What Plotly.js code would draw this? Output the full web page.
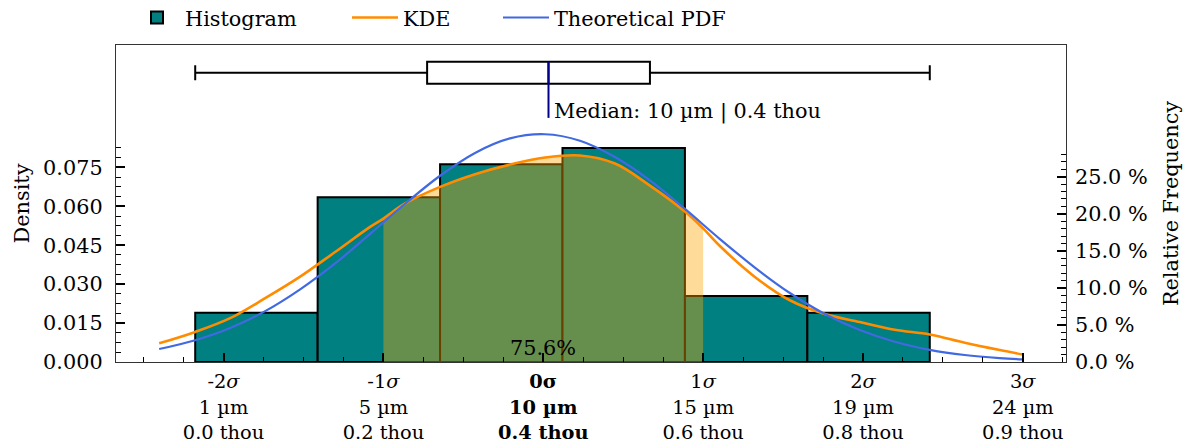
<!DOCTYPE html>
<html><head><meta charset="utf-8">
<script src="https://cdn.plot.ly/plotly-3.0.1.min.js"></script>
<style>html,body{margin:0;padding:0;background:#fff}#chart{width:1192px;height:445px}</style>
</head><body><div id="chart"></div>
<script>
// ---- data (µm) ----
const BIN_EDGES = [0.0, 3.5, 7.0, 10.5, 14.0, 17.5, 21.0];
const HIST_DENSITY = [0.0190, 0.0635, 0.0762, 0.0825, 0.0254, 0.0190];
const KDE_X = [-1.03, 0, 1, 2, 3, 4, 5, 5.38, 6, 7, 8, 9, 10, 11, 12, 13, 14, 14.52, 15, 16, 17, 18, 19, 20, 21, 22, 23, 23.66];
const KDE_Y = [0.0072, 0.0116, 0.0169, 0.0246, 0.0329, 0.0424, 0.0521, 0.0553, 0.0611, 0.0675, 0.0724, 0.0761, 0.0788, 0.0796, 0.0765, 0.0680, 0.0580, 0.0515, 0.0447, 0.0328, 0.0238, 0.0185, 0.0154, 0.0124, 0.0106, 0.0074, 0.0046, 0.0029];
const PDF_X = [-1.03, 0, 1, 2, 3, 4, 5, 6, 7, 8, 9, 10, 11, 12, 13, 14, 15, 16, 17, 18, 19, 20, 21, 22, 23, 23.66];
const PDF_Y = [0.0050, 0.0084, 0.0131, 0.0196, 0.0280, 0.0380, 0.0494, 0.0610, 0.0718, 0.0806, 0.0862, 0.0878, 0.0853, 0.0790, 0.0700, 0.0590, 0.0474, 0.0364, 0.0266, 0.0185, 0.0123, 0.0078, 0.0047, 0.0027, 0.0015, 0.0010];
const MEAN = 9.95;
const SD = 4.57;
const BOX_STATS = [0.0, 6.63, 10.1, 13.0, 21.0]; // min, q1, median, q3, max
const SIGMA_STEPS = [-2, -1, 0, 1, 2, 3];
const UM_LABELS = [1, 5, 10, 15, 19, 24];
const THOU_LABELS = [0.0, 0.2, 0.4, 0.6, 0.8, 0.9];
const DENSITY_TICKS = [0, 0.015, 0.030, 0.045, 0.060, 0.075];
const PCT_TICKS = [0, 5, 10, 15, 20, 25];
const WITHIN_1SD = '75.6%';
const MEDIAN_TEXT = 'Median: 10 µm | 0.4 thou';

// ---- derived ----
const FONT = 'DejaVu Serif';
const FS = 20.8;
const XFS = 19.4;
const binW = BIN_EDGES[1] - BIN_EDGES[0];
const centers = HIST_DENSITY.map((_, i) => (BIN_EDGES[i] + BIN_EDGES[i + 1]) / 2);
const widths = HIST_DENSITY.map((_, i) => BIN_EDGES[i + 1] - BIN_EDGES[i]);
const relFreq = HIST_DENSITY.map(d => d * binW * 100);
const span = KDE_X[KDE_X.length - 1] - KDE_X[0];
const XR = [KDE_X[0] - 0.05 * span, KDE_X[KDE_X.length - 1] + 0.05 * span];
const YMAX = 0.1222;
const fillIdx = KDE_X.map((x, i) => i).filter(i => KDE_X[i] >= MEAN - SD - 0.005 && KDE_X[i] <= MEAN + SD + 0.005);

const tickVals = SIGMA_STEPS.map(k => MEAN + k * SD);
const tickText = SIGMA_STEPS.map((k, i) => {
  const s = k === 0 ? '<b>0σ</b>' : `${k}<i>σ</i>`;
  const u = `${UM_LABELS[i]} µm`;
  const t = `${THOU_LABELS[i].toFixed(1)} thou`;
  return k === 0 ? `${s}<br><b>${u}</b><br><b>${t}</b>` : `${s}<br>${u}<br>${t}`;
});
const xMinor = [];
for (let k = -12; k <= 16; k++) {
  const v = MEAN + k * SD / 4;
  if (k % 4 !== 0 && v > XR[0] && v < XR[1]) xMinor.push(v);
}
const yMinor = [];
for (let k = 1; k <= 22; k++) { if (k % 4 !== 0) yMinor.push(k * 0.00375); }
const y2Minor = [];
for (let k = 1; k <= 28; k++) { if (k % 5 !== 0) y2Minor.push(k); }

const BOX_Y = 0.1115, BOX_H = 0.0085;

const traces = [
  { type: 'bar', x: centers, y: HIST_DENSITY, width: widths, name: 'Histogram',
    marker: { color: '#008080', line: { color: '#000', width: 2 } }, legend: 'legend', hoverinfo: 'skip' },
  { type: 'scatter', mode: 'lines', x: fillIdx.map(i => KDE_X[i]), y: fillIdx.map(i => KDE_Y[i]),
    fill: 'tozeroy', fillcolor: 'rgba(255,165,0,0.4)', line: { width: 0, shape: 'spline', color: 'rgba(255,165,0,0.4)' },
    showlegend: false, hoverinfo: 'skip' },
  { type: 'box', orientation: 'h', y: [BOX_Y], lowerfence: [BOX_STATS[0]], q1: [BOX_STATS[1]], median: [BOX_STATS[2]],
    q3: [BOX_STATS[3]], upperfence: [BOX_STATS[4]], width: BOX_H, whiskerwidth: 0.68, fillcolor: '#fff',
    line: { color: '#000', width: 2 }, boxpoints: false, showlegend: false, hoverinfo: 'skip' },
  { type: 'scatter', mode: 'lines', x: KDE_X, y: KDE_Y, name: 'KDE', legend: 'legend2',
    line: { color: '#FF8C00', width: 2.6, shape: 'spline' }, hoverinfo: 'skip' },
  { type: 'scatter', mode: 'lines', x: PDF_X, y: PDF_Y, name: 'Theoretical PDF', legend: 'legend3',
    line: { color: '#4169E1', width: 2.2, shape: 'spline' }, hoverinfo: 'skip' },
  { type: 'scatter', mode: 'markers', x: centers, y: relFreq, yaxis: 'y2', marker: { opacity: 0 },
    showlegend: false, hoverinfo: 'skip' }
];

const legBase = { orientation: 'h', xref: 'container', yref: 'container', y: 1 - 18 / 445, yanchor: 'middle',
  xanchor: 'left', itemwidth: 46, font: { family: FONT, size: FS, color: '#000' }, bgcolor: 'rgba(0,0,0,0)', borderwidth: 0 };

const layout = {
  width: 1192, height: 445,
  margin: { l: 116, r: 126, t: 45, b: 83, pad: 0 },
  paper_bgcolor: '#fff', plot_bgcolor: '#fff',
  font: { family: FONT, size: FS, color: '#000' },
  barmode: 'overlay', bargap: 0, boxmode: 'overlay',
  showlegend: true,
  legend: Object.assign({}, legBase, { x: 129 / 1192 }),
  legend2: Object.assign({}, legBase, { x: 347 / 1192 }),
  legend3: Object.assign({}, legBase, { x: 498 / 1192 }),
  xaxis: {
    range: XR, tickmode: 'array', tickvals: tickVals, ticktext: tickText,
    ticks: 'inside', ticklen: 9, tickwidth: 2, tickcolor: '#000',
    showline: true, linecolor: '#333', linewidth: 1.2, mirror: true,
    showgrid: false, zeroline: false, ticklabelstandoff: 2,
    tickfont: { family: FONT, size: XFS, color: '#000' },
    minor: { tickmode: 'array', tickvals: xMinor, ticks: 'inside', ticklen: 5, tickwidth: 1, tickcolor: '#000', showgrid: false }
  },
  yaxis: {
    range: [0, YMAX], tickmode: 'array', tickvals: DENSITY_TICKS, tickformat: '.3f',
    ticks: 'inside', ticklen: 9, tickwidth: 2, tickcolor: '#000',
    showline: true, linecolor: '#333', linewidth: 1.2, mirror: true,
    showgrid: false, zeroline: false, ticklabelstandoff: 8,
    title: { text: 'Density', font: { family: FONT, size: FS, color: '#000' }, standoff: 7 },
    minor: { tickmode: 'array', tickvals: yMinor, ticks: 'inside', ticklen: 5, tickwidth: 1, tickcolor: '#000', showgrid: false }
  },
  yaxis2: {
    overlaying: 'y', side: 'right', range: [0, YMAX * binW * 100],
    tickmode: 'array', tickvals: PCT_TICKS, ticktext: PCT_TICKS.map(v => v.toFixed(1) + ' %'),
    ticks: 'inside', ticklen: 9, tickwidth: 2, tickcolor: '#000',
    showline: false, showgrid: false, zeroline: false, ticklabelstandoff: 8,
    title: { text: 'Relative Frequency', font: { family: FONT, size: FS, color: '#000' }, standoff: 16 },
    minor: { tickmode: 'array', tickvals: y2Minor, ticks: 'inside', ticklen: 5, tickwidth: 1, tickcolor: '#000', showgrid: false }
  },
  shapes: [
    { type: 'line', xref: 'x', yref: 'y', x0: BOX_STATS[2], x1: BOX_STATS[2], y0: BOX_Y + BOX_H / 2, y1: 0.0941,
      line: { color: '#00008B', width: 2 }, layer: 'above' }
  ],
  annotations: [
    { xref: 'x', yref: 'y', x: BOX_STATS[2], y: 0.0966, xanchor: 'left', yanchor: 'middle', xshift: 3,
      text: MEDIAN_TEXT, showarrow: false, font: { family: FONT, size: FS, color: '#000' } },
    { xref: 'x', yref: 'y', x: MEAN, y: 0, xanchor: 'center', yanchor: 'bottom',
      text: WITHIN_1SD, showarrow: false, font: { family: FONT, size: FS, color: '#000' } }
  ]
};

Plotly.newPlot('chart', traces, layout, { displayModeBar: false, staticPlot: true });
</script>
</body></html>
